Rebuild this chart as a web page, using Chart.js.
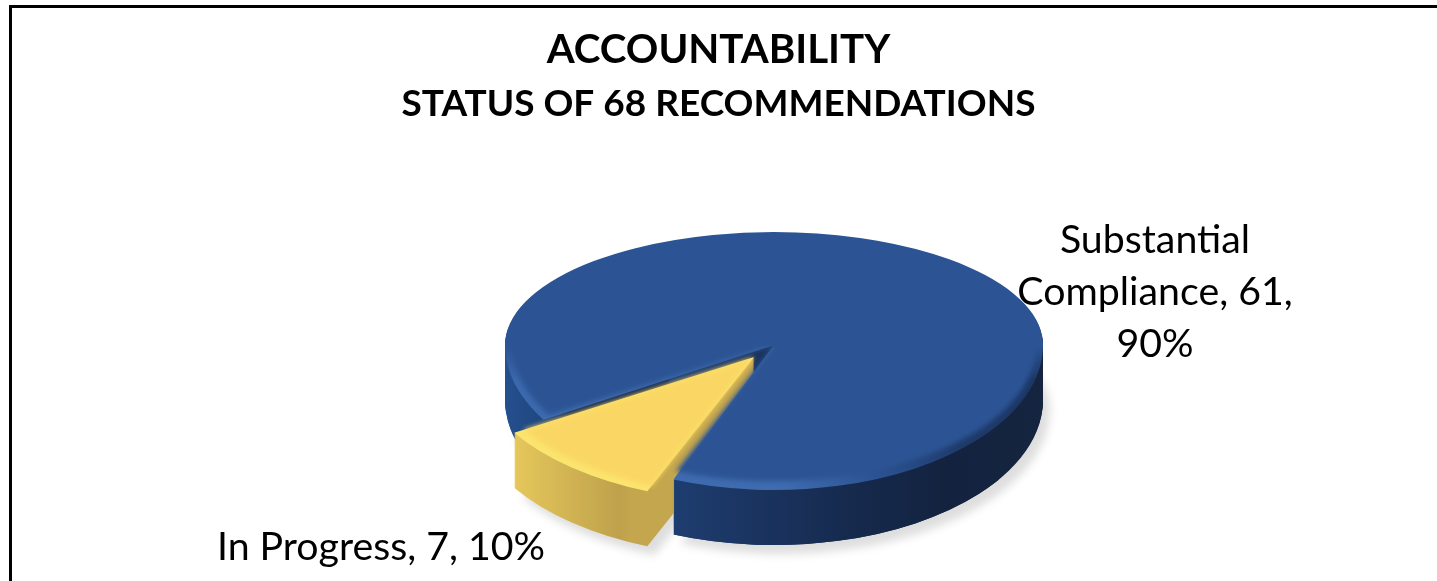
<!DOCTYPE html>
<html>
<head>
<meta charset="utf-8">
<style>
  html, body { margin: 0; padding: 0; background: #fff; overflow: hidden; }
  #wrap { position: relative; width: 1437px; height: 581px; overflow: hidden; }
  #frame { position: absolute; left: 9px; top: 5px; right: -10px; bottom: -10px; border: 3px solid #000; pointer-events: none; }
</style>
</head>
<body>
<div id="wrap">
  <canvas id="myChart" width="1437" height="581"></canvas>
  <div id="frame"></div>
</div>
<script src="https://cdn.jsdelivr.net/npm/chart.js@4/dist/chart.umd.min.js"></script>
<script>
// values
const titleText = "ACCOUNTABILITY";
const subtitleText = "STATUS OF 68 RECOMMENDATIONS";
const categories = ["Substantial Compliance", "In Progress"];
const counts = [61, 7];
const percents = [90, 10];
const labelLines = [
    ["Substantial", "Compliance, " + counts[0] + ",", percents[0] + "%"],
    [categories[1] + ", " + counts[1] + ", " + percents[1] + "%"]
];

// look of the tilted pie. back and front are the two half heights around the apex
const look = {
    cx: 774, cy: 345, rx: 269, back: 113, front: 145, sliceFront: 139, depth: 55,
    top: ["#2c5494", "#fad764"],
    rim: ["#3c69ae", "#fbe56f"],
    labelFont: "39.3px Lato",
    labelAt: [[1155, 253], [381, 560]],
    lineHeight: 52
};

// draws a copy of an arc with another fill, the library still does the path
function drawArcWith(arc, ctx, fill) {
    let copy = Object.create(arc);
    copy.options = Object.assign({}, arc.options, { backgroundColor: fill, borderWidth: 0 });
    Chart.ArcElement.prototype.draw.call(copy, ctx);
}

function sideGradient(ctx, arc, i) {
    let r = arc.outerRadius;
    let g = ctx.createLinearGradient(arc.x - r, 0, arc.x + r, 0);
    if (i == 0) {
        g.addColorStop(0, "#24508f");
        g.addColorStop(0.09, "#1f4479");
        g.addColorStop(0.12, "#152a52");
        g.addColorStop(0.3, "#152a52");
        g.addColorStop(0.31, "#1e3d70");
        g.addColorStop(0.64, "#162a4e");
        g.addColorStop(0.83, "#13223e");
        g.addColorStop(1, "#15243f");
    } else {
        g.addColorStop(0, "#e9cb60");
        g.addColorStop(0.05, "#e6c85c");
        g.addColorStop(0.25, "#bfa14c");
        g.addColorStop(0.27, "#c4a64e");
        g.addColorStop(1, "#c4a64e");
    }
    return g;
}

// rim colour goes round the pie, same as the top colour where the two halves meet
function rimGradient(ctx, arc) {
    let g = ctx.createConicGradient(0, arc.x, arc.y);
    g.addColorStop(0, look.top[0]);
    g.addColorStop(14 / 360, "#1c3766");
    g.addColorStop(45 / 360, "#1e3a6a");
    g.addColorStop(68 / 360, look.top[0]);
    g.addColorStop(88 / 360, "#3f6cb0");
    g.addColorStop(165 / 360, look.rim[0]);
    g.addColorStop(180 / 360, look.top[0]);
    g.addColorStop(1, look.top[0]);
    return g;
}

const tiltPlugin = {
    id: "tilt",
    beforeDatasetsDraw(chart) {
        let ctx = chart.ctx;
        let arcs = chart.getDatasetMeta(0).data;
        let r = arcs[0].outerRadius;
        let x0 = arcs[0].x, y0 = arcs[0].y;
        let w = chart.width, h = chart.height;

        const place = function (dx, dy, height, k) {
            let sx = look.rx / r * (k || 1);
            let sy = height / r;
            ctx.setTransform(sx, 0, 0, sy, look.cx + dx - x0 * sx, look.cy + dy - y0 * sy);
        };
        // the half above the apex and the half below it get their own height
        const backHalf = function (arc, fill, dx, dy, k) {
            ctx.save();
            ctx.setTransform(1, 0, 0, 1, 0, 0);
            ctx.beginPath();
            ctx.rect(0, 0, w, look.cy + dy);
            ctx.clip();
            place(dx, dy, look.back, k);
            drawArcWith(arc, ctx, fill);
            ctx.restore();
        };
        const frontHalf = function (arc, fill, dx, dy, k, height) {
            ctx.save();
            ctx.setTransform(1, 0, 0, 1, 0, 0);
            ctx.beginPath();
            ctx.rect(0, look.cy + dy, w, h);
            ctx.clip();
            place(dx, dy, height || look.front, k);
            drawArcWith(arc, ctx, fill);
            ctx.restore();
        };

        // soft shadow under the pie
        ctx.save();
        ctx.filter = "blur(4px)";
        backHalf(arcs[0], "rgba(0,0,0,0.13)", 7, look.depth + 9);
        frontHalf(arcs[0], "rgba(0,0,0,0.13)", 7, look.depth + 9);
        frontHalf(arcs[1], "rgba(0,0,0,0.13)", 7, look.depth + 9, 1, look.sliceFront);
        ctx.restore();

        // walls of the big slice
        let big = arcs[0], arc = arcs[1];
        let side = sideGradient(ctx, big, 0);
        for (let d = look.depth; d > 0; d--) {
            backHalf(big, side, 0, d);
            frontHalf(big, side, 0, d);
        }
        // wall of the pulled out slice
        let sliceSide = sideGradient(ctx, arc, 1);
        for (let d = look.depth; d > 0; d--) {
            place(0, d, look.sliceFront);
            drawArcWith(arc, ctx, sliceSide);
        }
        // front wall of the big slice hides the cut face of the small one
        let cutX = look.cx + Math.cos(big.endAngle) * look.rx;
        let cutY = look.cy + Math.sin(big.endAngle) * look.front;
        ctx.save();
        ctx.setTransform(1, 0, 0, 1, 0, 0);
        ctx.beginPath();
        ctx.rect(cutX, cutY, w, h);
        ctx.clip();
        for (let d = look.depth; d > 0; d--) {
            frontHalf(big, side, 0, d);
        }
        ctx.restore();

        // top of the big slice
        backHalf(big, look.top[0], 0, 0);
        frontHalf(big, rimGradient(ctx, big), 0, 0);
        ctx.save();
        ctx.filter = "blur(2.5px)";
        frontHalf(big, look.top[0], 0, 0, 0.975, look.front - 9);
        ctx.restore();

        // top of the pulled out slice
        place(0, 0, look.sliceFront);
        drawArcWith(arc, ctx, look.rim[1]);
        // keep the cut edges where they are, only the outer curve moves in
        let mid = (arc.startAngle + arc.endAngle) / 2;
        let off = arc.options.offset / 4;
        let vx = Math.cos(mid) * off * look.rx / r, vy = Math.sin(mid) * off * look.sliceFront / r;
        let k = 0.96;
        ctx.save();
        ctx.filter = "blur(2.5px)";
        place(vx * (1 - k), vy * (1 - k), look.sliceFront * k, k);
        drawArcWith(arc, ctx, look.top[1]);
        ctx.restore();

        ctx.setTransform(1, 0, 0, 1, 0, 0);
        return false;
    },
    afterDraw(chart) {
        let ctx = chart.ctx;
        ctx.save();
        ctx.setTransform(1, 0, 0, 1, 0, 0);
        ctx.font = look.labelFont;
        ctx.fillStyle = "#000";
        ctx.textAlign = "center";
        ctx.textBaseline = "alphabetic";
        labelLines.forEach(function (lines, i) {
            lines.forEach(function (line, n) {
                ctx.fillText(line, look.labelAt[i][0], look.labelAt[i][1] + n * look.lineHeight);
            });
        });
        ctx.restore();
    }
};

let ctx = document.getElementById("myChart").getContext("2d");
let myPie = new Chart(ctx, {
    type: "pie",
    data: {
        labels: categories,
        datasets: [{
            data: counts,
            backgroundColor: look.top,
            borderWidth: 0,
            offset: [0, 84]
        }]
    },
    options: {
        responsive: false,
        animation: false,
        rotation: 239,
        layout: { padding: { top: 26 } },
        plugins: {
            legend: { display: false },
            tooltip: { enabled: false },
            title: {
                display: true,
                text: titleText,
                color: "#000",
                font: { family: "Lato", size: 40.3, weight: "bold" },
                padding: { top: 0, bottom: 8 }
            },
            subtitle: {
                display: true,
                text: subtitleText,
                color: "#000",
                font: { family: "Lato", size: 37, weight: "bold" },
                padding: { top: 0, bottom: 0 }
            }
        }
    },
    plugins: [tiltPlugin]
});
</script>
</body>
</html>
